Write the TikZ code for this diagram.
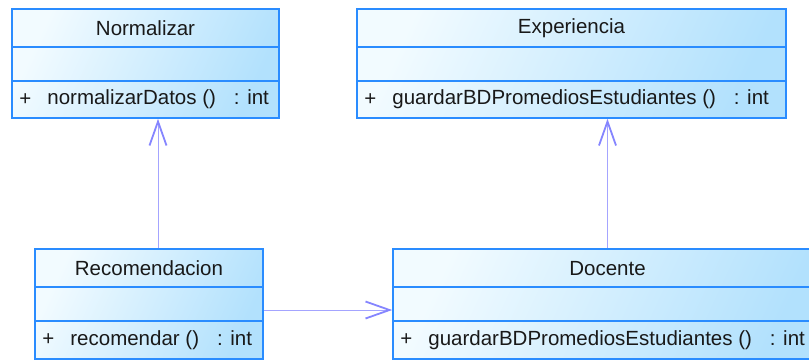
\documentclass[tikz,border=0pt]{standalone}
\usepackage{fontspec}
\setmainfont{Liberation Sans}
\usetikzlibrary{arrows.meta, positioning}
\definecolor{clsBorder}{HTML}{2A8CFF}
\definecolor{clsLight}{HTML}{F2FBFF}
\definecolor{clsDark}{HTML}{B2E1FD}
\definecolor{assocLine}{HTML}{A4A4FF}
\definecolor{assocHead}{HTML}{8585FF}
\tikzset{
    classbox/.style={draw=clsBorder, line width=1.6pt, rectangle, inner sep=0pt, top color=clsLight, bottom color=clsDark, shading angle=65},
    rowline/.style={draw=clsBorder, line width=1.6pt},
    umltext/.style={font=\fontsize{20.5pt}{24pt}\selectfont, text=black!90, inner sep=0pt},
    oper/.style={umltext, anchor=west},
    assoc/.style={draw=assocLine, line width=0.8pt, -{Straight Barb[length=24pt, width=17pt, line width=1.8pt, color=assocHead]}}
}

\begin{document}
\begin{tikzpicture}[x=1pt, y=-1pt]
\useasboundingbox (0,0) rectangle (809,360);
% classes
\node[classbox, minimum width=267pt, minimum height=109pt] (norm) at (145.5,63.5) {};
\node[classbox, minimum width=429pt, minimum height=109pt] (exp) at (571.5,63.5) {};
\node[classbox, minimum width=228pt, minimum height=110pt] (rec) at (149,304) {};
\node[classbox, minimum width=429pt, minimum height=110pt] (doc) at (607.5,304) {};
% compartments
\foreach \c in {norm, exp, rec, doc} {
    \draw[rowline] ([yshift=-39pt]\c.north west) -- ([yshift=-39pt]\c.north east);
    \draw[rowline] ([yshift=-73pt]\c.north west) -- ([yshift=-73pt]\c.north east);
    \node[oper] (\c-plus) at ([xshift=8pt, yshift=-91pt]\c.north west) {+};
}
% names
\node[umltext] (norm-name) at ([yshift=-19.5pt]norm.north) {Normalizar};
\node[umltext] (exp-name) at ([yshift=-19.5pt]exp.north) {Experiencia};
\node[umltext] (rec-name) at ([yshift=-20pt]rec.north) {Recomendacion};
\node[umltext] (doc-name) at ([yshift=-20pt]doc.north) {Docente};
% operations
\node[oper] (norm-op) at ([xshift=36pt, yshift=-91pt]norm.north west) {normalizarDatos ()\hspace{18pt}: int};
\node[oper] (exp-op) at ([xshift=36pt, yshift=-91pt]exp.north west) {guardarBDPromediosEstudiantes ()\hspace{18pt}: int};
\node[oper] (rec-op) at ([xshift=36pt, yshift=-92pt]rec.north west) {recomendar ()\hspace{18pt}: int};
\node[oper] (doc-op) at ([xshift=36pt, yshift=-92pt]doc.north west) {guardarBDPromediosEstudiantes ()\hspace{18pt}: int};
% associations
\draw[assoc] ([xshift=9pt]rec.north) -- ([xshift=9pt]rec.north |- norm.south);
\draw[assoc] (doc.north) -- (doc.north |- exp.south);
\draw[assoc] ([yshift=-6pt]rec.east) -- ([yshift=-6pt]rec.east -| doc.west);
\end{tikzpicture}
\end{document}
